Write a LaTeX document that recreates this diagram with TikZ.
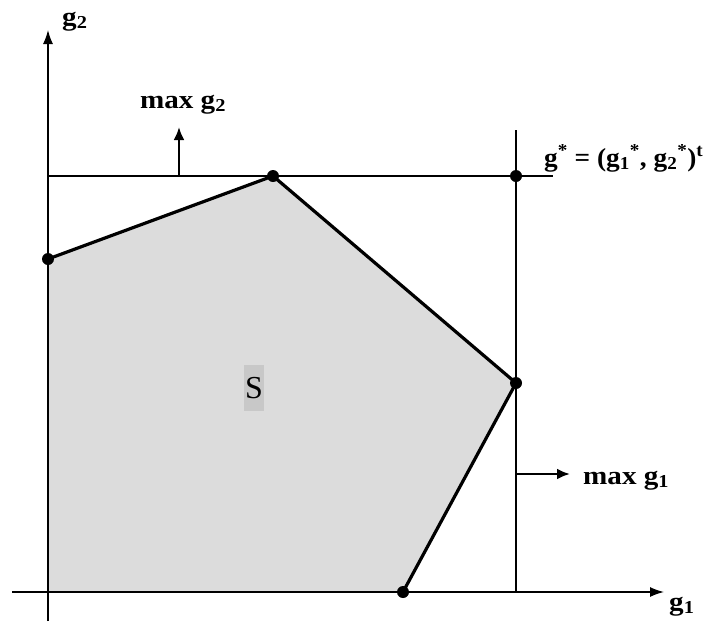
\documentclass[tikz,border=0pt]{standalone}
\usepackage{fontspec}
\setmainfont{Liberation Serif}
\newfontfamily\labfont[FakeStretch=1.12]{Liberation Serif}
\newfontfamily\labfontb[FakeStretch=1.05]{Liberation Serif}
\usetikzlibrary{arrows.meta}
\definecolor{regionfill}{HTML}{DCDCDC}
\definecolor{sbox}{HTML}{C8C8C8}
\tikzset{
  thinline/.style={line width=1.2pt},
  axisline/.style={line width=1.4pt,-{Latex[length=14pt,width=10pt]}},
  edge/.style={line width=3.2pt,line cap=round,line join=round},
  dotnode/.style={circle,fill=black,inner sep=0pt,minimum size=12pt},
  lab/.style={font=\labfont\bfseries\fontsize{26}{30}\selectfont,inner sep=0pt},
  labb/.style={font=\labfontb\bfseries\fontsize{26}{30}\selectfont,inner sep=0pt},
  dirarrow/.style={line width=2.6pt,-{Latex[length=13pt,width=11pt]}},
}
\begin{document}
\begin{tikzpicture}[x=1pt,y=-1pt]
\useasboundingbox (0,0) rectangle (710,622);
% coordinates
\coordinate (O) at (48,592);
\coordinate (ytop) at (48,30);
\coordinate (ybot) at (48,621);
\coordinate (xl) at (12,592);
\coordinate (xr) at (664,592);
\coordinate (hl) at (48,176);
\coordinate (hr) at (553,176);
\coordinate (vt) at (516,130);
\coordinate (vb) at (516,592);
% region
\fill[regionfill] (48,259) -- (273,176) -- (516,383) -- (403,592) -- (O) -- cycle;
% axes and lines
\draw[axisline] (ybot) -- (ytop);
\draw[axisline] (xl) -- (xr);
\draw[thinline] (hl) -- (hr);
\draw[thinline] (vt) -- (vb);
% vertices
\node[dotnode] (A) at (48,259) {};
\node[dotnode] (B) at (273,176) {};
\node[dotnode] (C) at (516,383) {};
\node[dotnode] (D) at (403,592) {};
\node[dotnode] (G) at (516,176) {};
\draw[edge] (A.center) -- (B.center) -- (C.center) -- (D.center);
% direction arrows
\coordinate (u0) at (179,176);
\coordinate (u1) at (179,127);
\draw[dirarrow] (u0) -- (u1);
\coordinate (r0) at (516,474);
\coordinate (r1) at (570,474);
\draw[dirarrow] (r0) -- (r1);
% labels
\node[lab,anchor=base] (lmax2) at (183,108) {max g\textsubscript{2}};
\node[lab,anchor=base west] (lmax1) at (583,484) {max g\textsubscript{1}};
\node[lab,anchor=base west] (lg2) at (62,25) {g\textsubscript{2}};
\node[lab,anchor=base west] (lg1) at (669,610) {g\textsubscript{1}};
\node[labb,anchor=base west] (lgs) at (544,166) {g\textsuperscript{*} = (g\textsubscript{1}\textsuperscript{*}, g\textsubscript{2}\textsuperscript{*})\textsuperscript{t}};
\node[fill=sbox,minimum width=20pt,minimum height=46pt,inner sep=0pt,font=\fontsize{32}{36}\selectfont] (S) at (254,388) {S};
\end{tikzpicture}
\end{document}
